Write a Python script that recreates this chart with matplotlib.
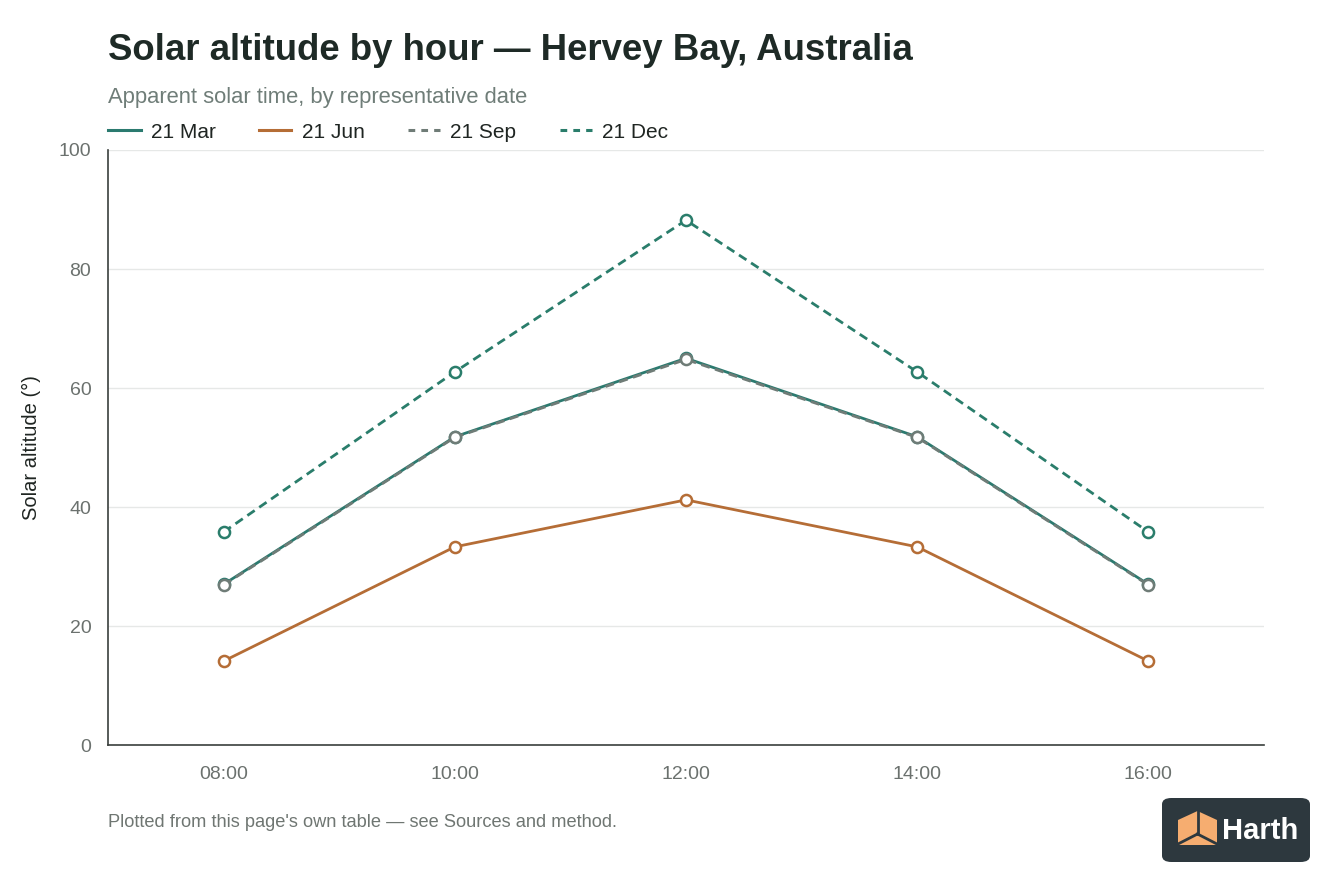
import matplotlib
matplotlib.use("Agg")
import matplotlib.pyplot as plt
from matplotlib.patches import FancyBboxPatch, Polygon
from matplotlib.lines import Line2D

plt.rcParams['font.family'] = ['Liberation Sans', 'DejaVu Sans']

hours = ["08:00", "10:00", "12:00", "14:00", "16:00"]
mar = [27.0, 51.8, 65.0, 51.8, 27.0]
jun = [14.1, 33.3, 41.2, 33.3, 14.1]
sep = [26.9, 51.7, 64.8, 51.7, 26.9]
dec = [35.8, 62.7, 88.2, 62.7, 35.8]
series_names = ["21 Mar", "21 Jun", "21 Sep", "21 Dec"]
y_ticks = [0, 20, 40, 60, 80, 100]

W, H = 1344, 896
fig = plt.figure(figsize=(W/100, H/100), dpi=100)
fig.patch.set_facecolor("white")

ax = fig.add_axes([108/W, 1-745/H, (1264-108)/W, (745-150)/H])
x = list(range(len(hours)))

teal = "#2b7a6f"
orange = "#b56d36"
grey = "#6f7c77"
teal2 = "#2a7d6b"
lw = 2.0
ms = 8
mew = 1.8

styles = [
    dict(color=teal, ls='-', lls='-'),
    dict(color=orange, ls='-', lls='-'),
    dict(color=grey, ls=(0, (3.2, 2.0)), lls=(0, (2.2, 2.0))),
    dict(color=teal2, ls=(0, (3.2, 2.0)), lls=(0, (2.2, 2.0))),
]
data = [mar, jun, sep, dec]
for vals, st, name in zip(data, styles, series_names):
    ax.plot(x, vals, color=st['color'], linestyle=st['ls'], lw=lw,
            marker='o', markersize=ms, markerfacecolor='white',
            markeredgecolor=st['color'], markeredgewidth=mew, label=name,
            zorder=3)

ax.set_xlim(-0.5, 4.5)
ax.set_ylim(0, 100)
ax.set_xticks(x)
ax.set_xticklabels(hours)
ax.set_yticks(y_ticks)
ax.tick_params(axis='both', length=0, labelsize=14, colors="#6b716e")
ax.tick_params(axis='x', pad=15)
ax.tick_params(axis='y', pad=12)
ax.grid(axis='y', color="#e6e8e7", lw=1)
ax.set_axisbelow(True)
for s in ['top', 'right']:
    ax.spines[s].set_visible(False)
for s in ['left', 'bottom']:
    ax.spines[s].set_color("#3a3f3d")
    ax.spines[s].set_linewidth(1.2)
ax.set_ylabel("Solar altitude (°)", fontsize=14.5, color="#1f2522", labelpad=13)

fig.text(108/W, 1-50/H, "Solar altitude by hour — Hervey Bay, Australia",
         fontsize=26.4, fontweight='bold', color="#1e2a26", va='center', ha='left')
fig.text(108/W, 1-97/H, "Apparent solar time, by representative date",
         fontsize=15.8, color="#6f7d78", va='center', ha='left')
fig.text(108/W, 1-822/H, "Plotted from this page's own table — see Sources and method.",
         fontsize=13.15, color="#6f7672", va='center', ha='left')

handles = [Line2D([0], [0], color=st['color'], linestyle=st['lls'], lw=2.2) for st in styles]
leg = fig.legend(handles, series_names, loc='center left',
                 bbox_to_anchor=(100/W, 1-132/H), ncol=4, frameon=False,
                 fontsize=15, handlelength=1.55, handletextpad=0.5,
                 columnspacing=2.07, borderaxespad=0)
for t in leg.get_texts():
    t.set_color("#1f2522")

# Logo
lx0, ly0, lx1, ly1 = 1162, 798, 1310, 862
logo = FancyBboxPatch((lx0/W, 1-ly1/H), (lx1-lx0)/W, (ly1-ly0)/H,
                      boxstyle="round,pad=0,rounding_size=0.007",
                      transform=fig.transFigure, facecolor="#2d383e",
                      edgecolor="none")
fig.patches.append(logo)
cx = 1197.5
icon_pts = [(cx, 811), (1217, 820), (1217, 845), (1178, 845), (1178, 820)]
poly = Polygon([(px/W, 1-py/H) for px, py in icon_pts], closed=True,
               transform=fig.transFigure, facecolor="#f6ad70", edgecolor="none")
fig.patches.append(poly)
ccy = 834
for (px0, py0, px1, py1) in [(cx, 810, cx, ccy), (cx, ccy, 1178, 844), (cx, ccy, 1217, 844)]:
    fig.lines.append(Line2D([px0/W, px1/W], [1-py0/H, 1-py1/H],
                            transform=fig.transFigure, color="#2d383e", lw=2))
fig.text(1222/W, 1-831/H, "Harth", fontsize=21, fontweight='bold',
         color="white", va='center', ha='left')

fig.savefig("out.png", dpi=100, facecolor="white")
